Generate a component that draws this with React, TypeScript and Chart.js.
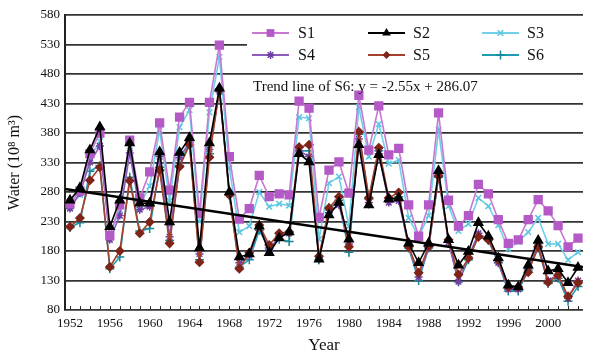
import React, { useEffect, useRef } from 'react';
import { Chart, registerables } from 'chart.js';

Chart.register(...registerables);

const years: number[] = [
  1952, 1953, 1954, 1955, 1956, 1957, 1958, 1959, 1960, 1961, 1962, 1963, 1964,
  1965, 1966, 1967, 1968, 1969, 1970, 1971, 1972, 1973, 1974, 1975, 1976, 1977,
  1978, 1979, 1980, 1981, 1982, 1983, 1984, 1985, 1986, 1987, 1988, 1989, 1990,
  1991, 1992, 1993, 1994, 1995, 1996, 1997, 1998, 1999, 2000, 2001, 2002, 2003,
];
const xTickYears: number[] = [1952, 1956, 1960, 1964, 1968, 1972, 1976, 1980, 1984, 1988, 1992, 1996, 2000];
const yTicks: number[] = [80, 130, 180, 230, 280, 330, 380, 430, 480, 530, 580];

const s1: number[] = [
  260, 282, 345, 380, 206, 258, 368, 270, 314, 397, 283, 407, 432,
  244, 432, 529, 340, 234, 252, 308, 272, 277, 275, 434, 422, 237,
  317, 331, 278, 444, 351, 426, 343, 354, 258, 205, 258, 414, 266,
  222, 240, 293, 277, 233, 193, 199, 233, 267, 248, 223, 187, 202,
];
const s2: number[] = [
  266, 287, 351, 390, 221, 266, 363, 261, 261, 348, 229, 347, 372,
  185, 363, 456, 280, 170, 175, 222, 177, 202, 212, 345, 331, 166,
  241, 262, 200, 360, 258, 343, 268, 270, 193, 160, 193, 316, 199,
  156, 179, 228, 205, 168, 122, 119, 156, 198, 146, 150, 126, 152,
];
const s3: number[] = [
  255, 275, 338, 366, 208, 250, 350, 258, 290, 385, 265, 390, 419,
  230, 415, 509, 320, 212, 222, 280, 255, 260, 257, 407, 405, 200,
  295, 306, 222, 424, 340, 395, 328, 334, 236, 204, 240, 385, 256,
  214, 226, 270, 256, 224, 183, 196, 212, 236, 192, 192, 165, 178,
];
const s4: number[] = [
  252, 278, 330, 358, 199, 240, 346, 250, 255, 340, 204, 338, 365,
  175, 352, 450, 276, 160, 172, 222, 182, 205, 210, 350, 340, 168,
  245, 258, 192, 370, 262, 345, 262, 265, 188, 136, 186, 310, 195,
  128, 170, 210, 200, 160, 115, 115, 150, 190, 130, 140, 100, 130,
];
const s5: number[] = [
  221, 236, 300, 322, 153, 180, 299, 210, 229, 317, 193, 323, 360,
  161, 339, 453, 275, 150, 177, 224, 190, 210, 212, 356, 360, 171,
  253, 272, 187, 382, 270, 355, 270, 279, 187, 143, 188, 307, 199,
  140, 168, 204, 199, 165, 119, 119, 144, 187, 127, 139, 103, 126,
];
const s6: number[] = [
  220, 228, 315, 325, 150, 170, 305, 214, 218, 322, 198, 325, 365,
  165, 345, 455, 275, 153, 165, 215, 185, 200, 196, 350, 350, 165,
  250, 266, 178, 378, 268, 350, 265, 272, 185, 130, 185, 305, 196,
  128, 165, 205, 198, 160, 112, 112, 148, 185, 125, 134, 95, 120,
];
const trendYears: number[] = [1951.5, 2003.5];
const trendValues: number[] = [285, 153];

const seriesNames: string[] = ['S1', 'S2', 'S3', 'S4', 'S5', 'S6'];
const trendLabel = 'Trend line of S6: y = -2.55x + 286.07';

const SERIF = '"Liberation Serif", "Times New Roman", serif';

type Style = { line: string; marker: string; point: string; radius: number };
const styles: Style[] = [
  { line: '#c877d2', marker: '#b45ac6', point: 'rect', radius: 5.5 },
  { line: '#000000', marker: '#000000', point: 'triangle', radius: 5 },
  { line: '#6fd0e8', marker: '#5cc4e0', point: 'crossRot', radius: 4 },
  { line: '#8e5cbc', marker: '#6e3ea0', point: 'star', radius: 4 },
  { line: '#a5402c', marker: '#7e2418', point: 'rectRot', radius: 4 },
  { line: '#1f9cb0', marker: '#17879a', point: 'cross', radius: 4.5 },
];
const seriesData: number[][] = [s1, s2, s3, s4, s5, s6];
const drawOrder: number[] = [2, 1, 5, 4, 3, 6];

function drawMarker(ctx: CanvasRenderingContext2D, style: string, x: number, y: number, r: number, color: string) {
  ctx.save();
  ctx.fillStyle = color;
  ctx.strokeStyle = color;
  ctx.lineWidth = 1.5;
  ctx.beginPath();
  if (style === 'rect') {
    const s = r * Math.SQRT1_2;
    ctx.rect(x - s, y - s, 2 * s, 2 * s);
    ctx.fill();
  } else if (style === 'triangle') {
    ctx.moveTo(x, y - r);
    ctx.lineTo(x + r * 0.866, y + r * 0.5);
    ctx.lineTo(x - r * 0.866, y + r * 0.5);
    ctx.closePath();
    ctx.fill();
  } else if (style === 'rectRot') {
    ctx.moveTo(x, y - r);
    ctx.lineTo(x + r, y);
    ctx.lineTo(x, y + r);
    ctx.lineTo(x - r, y);
    ctx.closePath();
    ctx.fill();
  } else if (style === 'cross') {
    ctx.moveTo(x - r, y);
    ctx.lineTo(x + r, y);
    ctx.moveTo(x, y - r);
    ctx.lineTo(x, y + r);
    ctx.stroke();
  } else if (style === 'crossRot') {
    const d = r * Math.SQRT1_2;
    ctx.moveTo(x - d, y - d);
    ctx.lineTo(x + d, y + d);
    ctx.moveTo(x - d, y + d);
    ctx.lineTo(x + d, y - d);
    ctx.stroke();
  } else if (style === 'star') {
    const d = r * Math.SQRT1_2;
    ctx.moveTo(x - r, y);
    ctx.lineTo(x + r, y);
    ctx.moveTo(x, y - r);
    ctx.lineTo(x, y + r);
    ctx.moveTo(x - d, y - d);
    ctx.lineTo(x + d, y + d);
    ctx.moveTo(x - d, y + d);
    ctx.lineTo(x + d, y - d);
    ctx.stroke();
  }
  ctx.restore();
}

const overlayPlugin = {
  id: 'overlay',
  afterDraw(chart: any) {
    const ctx: CanvasRenderingContext2D = chart.ctx;
    const area = chart.chartArea;
    const xs = chart.scales.x;
    ctx.save();
    ctx.strokeStyle = '#2a2a2a';
    ctx.lineWidth = 1;
    for (const yr of years) {
      const px = Math.round(xs.getPixelForValue(yr)) + 0.5;
      ctx.beginPath();
      ctx.moveTo(px, area.bottom);
      ctx.lineTo(px, area.bottom - 4);
      ctx.stroke();
    }
    ctx.fillStyle = '#ffffff';
    ctx.fillRect(247, 17, area.right - 247, 54);
    const lineStart = [252, 368, 482];
    const lineEnd = [289, 405, 519];
    const textX = [298, 413, 527];
    const rowY = [33, 55];
    ctx.font = `16px ${SERIF}`;
    ctx.textBaseline = 'middle';
    ctx.textAlign = 'left';
    seriesNames.forEach((name, i) => {
      const col = i % 3;
      const row = Math.floor(i / 3);
      const st = styles[i];
      const y = rowY[row];
      ctx.strokeStyle = st.line;
      ctx.lineWidth = 2;
      ctx.beginPath();
      ctx.moveTo(lineStart[col], y);
      ctx.lineTo(lineEnd[col], y);
      ctx.stroke();
      drawMarker(ctx, st.point, (lineStart[col] + lineEnd[col]) / 2, y, st.radius, st.marker);
      ctx.fillStyle = '#111';
      ctx.fillText(name, textX[col], y + 1);
    });
    ctx.font = `15px ${SERIF}`;
    ctx.fillStyle = '#111';
    ctx.fillText(trendLabel, 253, 87);
    ctx.restore();
  },
};

export default function App() {
  const ref = useRef<HTMLCanvasElement | null>(null);

  useEffect(() => {
    if (!ref.current) return;
    const datasets: any[] = seriesData.map((vals, i) => ({
      label: seriesNames[i],
      data: vals.map((v, j) => ({ x: years[j], y: v })),
      borderColor: styles[i].line,
      backgroundColor: styles[i].marker,
      pointBackgroundColor: styles[i].marker,
      pointBorderColor: styles[i].marker,
      pointStyle: styles[i].point,
      pointRadius: styles[i].radius,
      pointBorderWidth: 1.5,
      borderWidth: 1.6,
      tension: 0,
      order: drawOrder[i],
    }));
    datasets.push({
      label: 'trend',
      data: trendYears.map((yr, j) => ({ x: yr, y: trendValues[j] })),
      borderColor: '#000000',
      borderWidth: 2.5,
      pointRadius: 0,
      order: 0,
    });

    const chart = new Chart(ref.current, {
      type: 'line',
      data: { datasets },
      options: {
        animation: false,
        responsive: false,
        maintainAspectRatio: false,
        layout: { padding: { top: 15, right: 0, left: 0, bottom: 0 } },
        plugins: { legend: { display: false }, tooltip: { enabled: false } },
        scales: {
          x: {
            type: 'linear',
            min: 1951.5,
            max: 2003.5,
            afterBuildTicks: (scale: any) => {
              scale.ticks = xTickYears.map((v) => ({ value: v }));
            },
            afterFit: (scale: any) => {
              scale.height = 46;
            },
            grid: { display: false, drawTicks: false },
            border: { display: false },
            ticks: {
              padding: 6,
              maxRotation: 0,
              autoSkip: false,
              color: '#111',
              font: { family: SERIF, size: 13 },
              callback: (v: any) => String(v),
            },
            title: {
              display: true,
              text: 'Year',
              color: '#111',
              font: { family: SERIF, size: 17 },
              padding: { top: 0, bottom: 0 },
            },
          },
          y: {
            type: 'linear',
            min: 80,
            max: 580,
            afterBuildTicks: (scale: any) => {
              scale.ticks = yTicks.map((v) => ({ value: v }));
            },
            afterFit: (scale: any) => {
              scale.width = 65;
            },
            grid: { color: '#333333', lineWidth: 1.8, drawTicks: false },
            border: { display: true, color: '#222', width: 2 },
            ticks: {
              padding: 5,
              color: '#111',
              font: { family: SERIF, size: 13 },
              callback: (v: any) => String(v),
            },
            title: {
              display: true,
              text: 'Water (10⁸ m³)',
              color: '#111',
              font: { family: SERIF, size: 16 },
              padding: { top: 5, bottom: 0 },
            },
          },
        },
      },
      plugins: [overlayPlugin],
    } as any);
    return () => chart.destroy();
  }, []);

  return (
    <div style={{ position: 'absolute', left: 0, top: 0, width: 590, height: 356, background: '#fff' }}>
      <canvas ref={ref} width={590} height={356} style={{ display: 'block' }} />
    </div>
  );
}
